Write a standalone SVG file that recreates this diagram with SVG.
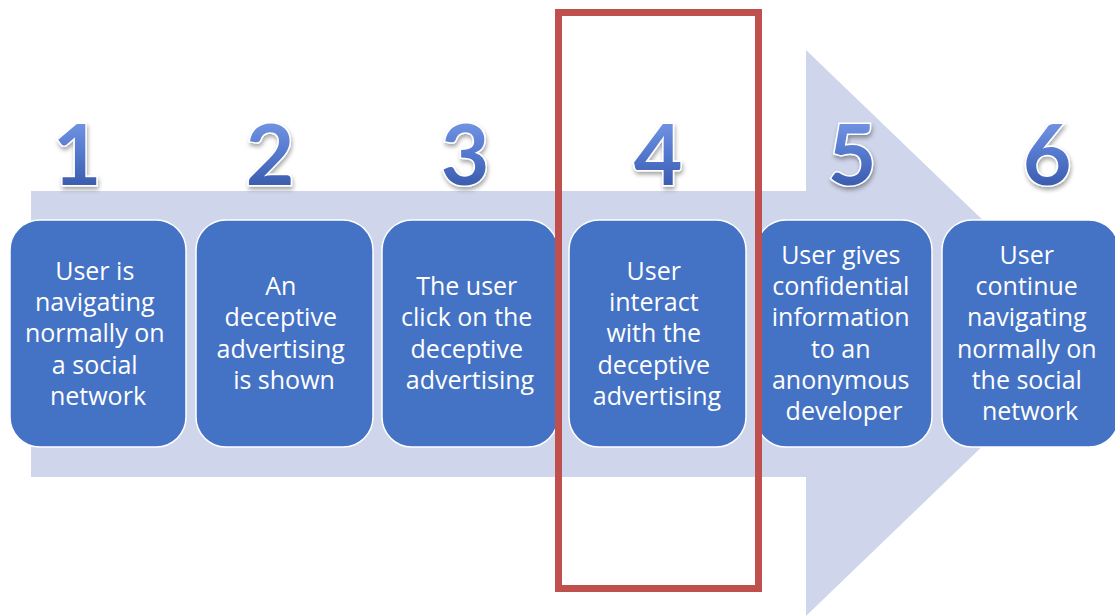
<svg xmlns="http://www.w3.org/2000/svg" width="1115" height="616" viewBox="0 0 1115 616">
  <defs>
    <linearGradient id="numGrad" x1="0" y1="0" x2="0" y2="1">
      <stop offset="0" stop-color="#84A5EC"/>
      <stop offset="0.5" stop-color="#5579CF"/>
      <stop offset="1" stop-color="#2E4E9C"/>
    </linearGradient>
    <filter id="numShadow" x="-30%" y="-30%" width="160%" height="160%">
      <feDropShadow dx="1" dy="3" stdDeviation="2" flood-color="#000" flood-opacity="0.35"/>
    </filter>
    <style>
      .box { fill: #4472C4; stroke: #FFFFFF; stroke-width: 1.5; }
      .label { font-family: "Open Sans", "Liberation Sans", sans-serif; font-size: 25px; fill: #FFFFFF; text-anchor: middle; font-variant-ligatures: none; }
      .num { font-family: "Lato", "Open Sans", "Liberation Sans", sans-serif; font-weight: bold; font-size: 84px; fill: url(#numGrad); stroke: #FFFFFF; stroke-width: 3; paint-order: stroke; text-anchor: middle; filter: url(#numShadow); }
    </style>
  </defs>

  <rect width="1115" height="616" fill="#FFFFFF"/>

  <!-- background process arrow -->
  <g id="flow-arrow">
    <polygon points="31,191 806,191 806,50 1100,333 806,616 806,477 31,477" fill="#CFD5EA"/>
  </g>

  <!-- step numbers -->
  <g id="numbers">
    <text class="num" x="77" y="185">1</text>
    <text class="num" x="270" y="185">2</text>
    <text class="num" x="465" y="185">3</text>
    <text class="num" x="658" y="185">4</text>
    <text class="num" x="852" y="185">5</text>
    <text class="num" x="1047" y="185">6</text>
  </g>

  <g id="step1">
    <rect class="box" x="10" y="220" width="176" height="227" rx="30"/>
    <text class="label">
      <tspan x="98" y="280">User is</tspan>
      <tspan x="98" y="311">navigating</tspan>
      <tspan x="98" y="342">normally on</tspan>
      <tspan x="98" y="374">a social</tspan>
      <tspan x="98" y="405">network</tspan>
    </text>
  </g>

  <g id="step2">
    <rect class="box" x="196" y="220" width="177" height="227" rx="30"/>
    <text class="label">
      <tspan x="284" y="295">An</tspan>
      <tspan x="284" y="326">deceptive</tspan>
      <tspan x="284" y="358">advertising</tspan>
      <tspan x="284" y="389">is shown</tspan>
    </text>
  </g>

  <g id="step3">
    <rect class="box" x="382" y="220" width="176" height="227" rx="30"/>
    <text class="label">
      <tspan x="470" y="295">The user</tspan>
      <tspan x="470" y="326">click on the</tspan>
      <tspan x="470" y="358">deceptive</tspan>
      <tspan x="470" y="389">advertising</tspan>
    </text>
  </g>

  <g id="step4">
    <rect class="box" x="569" y="220" width="177" height="227" rx="30"/>
    <text class="label">
      <tspan x="657" y="280">User</tspan>
      <tspan x="657" y="311">interact</tspan>
      <tspan x="657" y="342">with the</tspan>
      <tspan x="657" y="374">deceptive</tspan>
      <tspan x="657" y="405">advertising</tspan>
    </text>
  </g>

  <g id="step5">
    <rect class="box" x="756" y="220" width="176" height="227" rx="30"/>
    <text class="label">
      <tspan x="844" y="264">User gives</tspan>
      <tspan x="844" y="295">confidential</tspan>
      <tspan x="844" y="326">information</tspan>
      <tspan x="844" y="358">to an</tspan>
      <tspan x="844" y="389">anonymous</tspan>
      <tspan x="844" y="420">developer</tspan>
    </text>
  </g>

  <g id="step6">
    <rect class="box" x="942" y="220" width="177" height="227" rx="30"/>
    <text class="label">
      <tspan x="1030" y="264">User</tspan>
      <tspan x="1030" y="295">continue</tspan>
      <tspan x="1030" y="326">navigating</tspan>
      <tspan x="1030" y="358">normally on</tspan>
      <tspan x="1030" y="389">the social</tspan>
      <tspan x="1030" y="420">network</tspan>
    </text>
  </g>

  <!-- highlight frame around step 4 -->
  <g id="highlight">
    <rect x="558.5" y="12.5" width="200" height="576" fill="none" stroke="#C0504D" stroke-width="7"/>
  </g>

  <g id="connectors"></g>
</svg>
